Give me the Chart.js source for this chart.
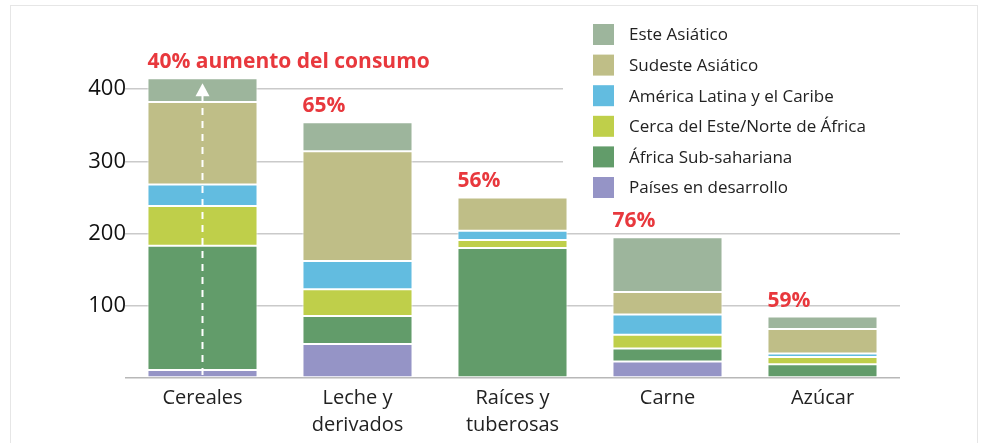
<!DOCTYPE html>
<html>
<head>
<meta charset="utf-8">
<script src="https://cdn.jsdelivr.net/npm/chart.js@4.4.1/dist/chart.umd.min.js"></script>
<style>
  html, body { margin: 0; padding: 0; background: #fff; }
  #wrap { position: relative; width: 984px; height: 443px; overflow: hidden; }
  #frame { position: absolute; left: 10px; top: 5px; width: 966px; height: 460px; border: 1px solid #e6e6e6; }
  #chart { position: absolute; left: 0; top: 0; }
</style>
</head>
<body>
<div id="wrap">
  <div id="frame"></div>
  <canvas id="chart" width="984" height="443"></canvas>
</div>
<script>
// categories (multi-line labels)
const categories = [
    ['Cereales'],
    ['Leche y', 'derivados'],
    ['Raíces y', 'tuberosas'],
    ['Carne'],
    ['Azúcar']
];

// series, bottom of stack first
const paisesDesarrollo = [11, 47, 0, 23, 0];
const africaSubsahariana = [172, 39, 180, 18, 19];
const cercaEsteNorteAfrica = [55, 37, 11, 19, 10];
const americaLatina = [30, 39, 13, 28, 5];
const sudesteAsiatico = [114, 152, 46, 31, 34];
const esteAsiatico = [33, 40, 0, 76, 17];

// red labels above each bar
const increaseLabels = ['40% aumento del consumo', '65%', '56%', '76%', '59%'];

const yTicks = [0, 100, 200, 300, 400];

const FONT = '"Open Sans", "Noto Sans", sans-serif';

const datasets = [
    { label: 'Países en desarrollo', data: paisesDesarrollo, backgroundColor: '#9594c6' },
    { label: 'África Sub-sahariana', data: africaSubsahariana, backgroundColor: '#629c6a' },
    { label: 'Cerca del Este/Norte de África', data: cercaEsteNorteAfrica, backgroundColor: '#bfcf4a' },
    { label: 'América Latina y el Caribe', data: americaLatina, backgroundColor: '#62bce0' },
    { label: 'Sudeste Asiático', data: sudesteAsiatico, backgroundColor: '#bfbe87' },
    { label: 'Este Asiático', data: esteAsiatico, backgroundColor: '#9db59c' }
].map(ds => Object.assign(ds, {
    borderColor: 'rgba(255,255,255,0.9)',
    borderWidth: 1,
    borderSkipped: false,
    barPercentage: 0.71,
    categoryPercentage: 1
}));

// white box with the legend in the top right corner
const legendBox = {
    id: 'legendBox',
    beforeDatasetsDraw(chart) {
        const ctx = chart.ctx;
        ctx.save();
        ctx.fillStyle = '#fff';
        ctx.fillRect(563, 8, 345, 184);
        const items = chart.data.datasets.slice().reverse();
        ctx.font = '17px ' + FONT;
        ctx.textBaseline = 'middle';
        ctx.textAlign = 'left';
        items.forEach((ds, i) => {
            const cy = 34.5 + i * 30.6;
            ctx.fillStyle = ds.backgroundColor;
            ctx.fillRect(593, cy - 10.5, 21, 21);
            ctx.fillStyle = '#222';
            ctx.fillText(ds.label, 629, cy + 1);
        });
        ctx.restore();
    }
};

// percentage labels + dashed arrow in the first bar
const annotations = {
    id: 'annotations',
    afterDatasetsDraw(chart) {
        const ctx = chart.ctx;
        const y = chart.scales.y;
        const base = chart.getDatasetMeta(0).data;
        ctx.save();

        // dashed arrow
        const ax = base[0].x;
        const tip = y.getPixelForValue(408);
        ctx.strokeStyle = '#fff';
        ctx.lineWidth = 2;
        ctx.setLineDash([7, 6]);
        ctx.beginPath();
        ctx.moveTo(ax, y.getPixelForValue(4));
        ctx.lineTo(ax, tip + 12);
        ctx.stroke();
        ctx.setLineDash([]);
        ctx.fillStyle = '#fff';
        ctx.beginPath();
        ctx.moveTo(ax, tip);
        ctx.lineTo(ax - 7, tip + 13);
        ctx.lineTo(ax + 7, tip + 13);
        ctx.closePath();
        ctx.fill();

        // red labels
        ctx.font = 'bold 21px ' + FONT;
        ctx.fillStyle = '#e8383d';
        ctx.textAlign = 'left';
        ctx.textBaseline = 'alphabetic';
        increaseLabels.forEach((txt, i) => {
            const total = chart.data.datasets.reduce((s, ds) => s + ds.data[i], 0);
            const left = base[i].x - base[i].width / 2;
            ctx.fillText(txt, left, y.getPixelForValue(total) - 10);
        });
        ctx.restore();
    }
};

new Chart(document.getElementById('chart'), {
    type: 'bar',
    data: { labels: categories, datasets: datasets },
    options: {
        responsive: false,
        animation: false,
        layout: { padding: { top: 53, right: 84, left: 0, bottom: 0 } },
        plugins: {
            legend: { display: false },
            tooltip: { enabled: false }
        },
        scales: {
            x: {
                stacked: true,
                grid: { display: false },
                border: { display: false },
                ticks: {
                    color: '#222',
                    font: { family: FONT, size: 20, lineHeight: 1.33 },
                    padding: -1,
                    maxRotation: 0,
                    autoSkip: false
                },
                afterFit(scale) { scale.height = 65; }
            },
            y: {
                stacked: true,
                min: 0,
                max: 450,
                afterBuildTicks(scale) { scale.ticks = yTicks.map(v => ({ value: v })); },
                grid: {
                    drawTicks: false,
                    lineWidth: 1.5,
                    color: ctx => ctx.tick && ctx.tick.value === 0 ? '#b8b8b8' : '#cacaca'
                },
                border: { display: false },
                ticks: {
                    color: '#111',
                    padding: -1,
                    font: { family: FONT, size: 22 },
                    callback: v => v === 0 ? '' : v
                },
                afterFit(scale) { scale.width = 125; }
            }
        }
    },
    plugins: [legendBox, annotations]
});
</script>
</body>
</html>
